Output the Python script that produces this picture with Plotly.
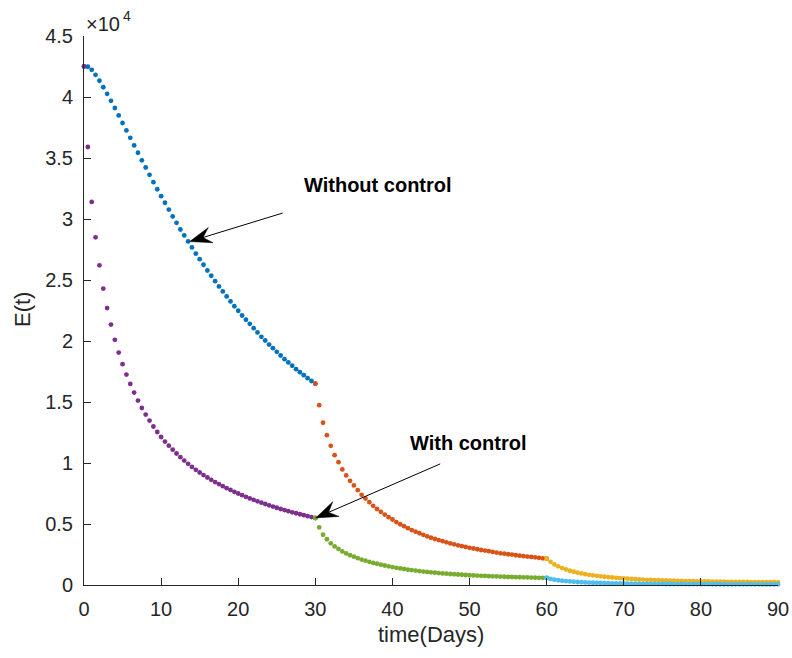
import plotly.graph_objects as go

# ---------------- data ----------------
t_seg1 = [i * 0.5 for i in range(61)]          # days 0..30
t_seg2 = [30 + i * 0.5 for i in range(61)]     # days 30..60
t_seg3 = [60 + i * 0.5 for i in range(61)]     # days 60..90

without_0_30 = [42500, 42480, 42230, 41820, 41330, 40800, 40260, 39690, 39100, 38490,
                37870, 37260, 36650, 36030, 35430, 34810, 34220, 33620, 33020, 32440,
                31870, 31330, 30770, 30210, 29690, 29140, 28650, 28160, 27670, 27170,
                26710, 26250, 25780, 25350, 24900, 24470, 24060, 23650, 23240, 22850,
                22480, 22090, 21740, 21410, 21050, 20700, 20340, 20040, 19710, 19410,
                19110, 18810, 18510, 18240, 17970, 17690, 17440, 17200, 16950, 16720,
                16500]
without_30_60 = [16500, 14740, 13300, 12280, 11410, 10640, 10070, 9470, 8980, 8540,
                 8160, 7770, 7390, 7090, 6790, 6490, 6230, 6000, 5770, 5560,
                 5370, 5160, 4980, 4820, 4660, 4500, 4370, 4240, 4110, 3990,
                 3880, 3770, 3680, 3590, 3500, 3410, 3330, 3250, 3180, 3120,
                 3050, 2990, 2930, 2870, 2820, 2770, 2710, 2660, 2600, 2570,
                 2520, 2490, 2440, 2400, 2360, 2330, 2300, 2270, 2230, 2190,
                 2160]
without_60_90 = [2160, 1900, 1690, 1530, 1390, 1270, 1170, 1085, 1010, 945,
                 885, 835, 790, 748, 710, 675, 643, 614, 587, 562,
                 538, 516, 496, 477, 459, 443, 428, 414, 401, 389,
                 378, 367, 357, 348, 339, 331, 323, 316, 309, 302,
                 296, 290, 285, 280, 275, 270, 266, 262, 258, 254,
                 250, 247, 244, 241, 238, 235, 232, 230, 227, 225,
                 222]
with_0_30 = [42500, 35900, 31400, 28500, 26200, 24300, 22700, 21350, 20100, 19050,
             18100, 17250, 16480, 15770, 15120, 14510, 13970, 13480, 12990, 12540,
             12130, 11760, 11420, 11090, 10780, 10480, 10200, 9930, 9680, 9440,
             9220, 9010, 8810, 8620, 8440, 8270, 8100, 7940, 7790, 7640,
             7500, 7360, 7230, 7100, 6980, 6860, 6750, 6640, 6530, 6430,
             6330, 6230, 6140, 6050, 5960, 5880, 5800, 5720, 5640, 5570,
             5490]
with_30_60 = [5490, 4720, 4120, 3750, 3420, 3160, 2960, 2750, 2590, 2440,
              2320, 2200, 2080, 1990, 1900, 1810, 1740, 1670, 1600, 1530,
              1470, 1410, 1360, 1310, 1260, 1220, 1180, 1140, 1100, 1070,
              1040, 1010, 980, 950, 925, 900, 880, 860, 840, 820,
              800, 785, 770, 755, 740, 725, 712, 700, 688, 676,
              665, 655, 645, 635, 626, 617, 608, 600, 592, 585,
              578]
with_60_90 = [580, 500, 440, 390, 350, 318, 290, 266, 246, 228,
              212, 198, 186, 175, 165, 156, 148, 141, 134, 128,
              122, 117, 112, 108, 104, 100, 97, 94, 91, 88,
              85, 83, 81, 79, 77, 75, 73, 71, 70, 68,
              67, 65, 64, 63, 62, 61, 60, 59, 58, 57,
              56, 55, 54, 53, 52, 52, 51, 50, 49, 49,
              48]

x_tick_vals = [0, 10, 20, 30, 40, 50, 60, 70, 80, 90]
y_tick_vals = [0, 5000, 10000, 15000, 20000, 25000, 30000, 35000, 40000, 45000]
y_tick_text = ["0", "0.5", "1", "1.5", "2", "2.5", "3", "3.5", "4", "4.5"]

# ---------------- styling ----------------
W, H = 792, 658
L, R, T, B = 84, 14, 36, 73
PW, PH = W - L - R, H - T - B
XMAX, YMAX = 90, 45000
px_x = PW / XMAX
px_y = PH / YMAX
FONT = "Liberation Sans, Arial, Helvetica, sans-serif"
AX = "#262626"

series = [
    (t_seg1, without_0_30, "#0072BD"),
    (t_seg2, without_30_60, "#D95319"),
    (t_seg3, without_60_90, "#EDB120"),
    (t_seg1, with_0_30, "#7E2F8E"),
    (t_seg2, with_30_60, "#77AC30"),
    (t_seg3, with_60_90, "#4DBEEE"),
]

fig = go.Figure()
for xs, ys, c in series:
    fig.add_trace(go.Scatter(x=xs, y=ys, mode="markers",
                             marker=dict(size=4.8, color=c, line=dict(width=0)),
                             showlegend=False, hoverinfo="skip", cliponaxis=False))


def arrow(tip_x, tip_y, tail_dx, tail_dy):
    """Arrow from a tail (pixel offset from tip) to a tip in data coords, MATLAB-like head."""
    import math
    ln = math.hypot(tail_dx, tail_dy)
    ux, uy = tail_dx / ln, tail_dy / ln
    nx, ny = -uy, ux
    def pt(a, b):
        dx = ux * a + nx * b
        dy = uy * a + ny * b
        return tip_x + dx / px_x, tip_y - dy / px_y
    p0 = pt(0, 0)
    p1 = pt(22, 8)
    p2 = pt(14, 0)
    p3 = pt(22, -8)
    tail = pt(ln, 0)
    fig.add_shape(type="line", xref="x", yref="y", x0=tail[0], y0=tail[1],
                  x1=p2[0], y1=p2[1], line=dict(color="black", width=1))
    path = "M {},{} L {},{} L {},{} L {},{} Z".format(p0[0], p0[1], p1[0], p1[1],
                                                     p2[0], p2[1], p3[0], p3[1])
    fig.add_shape(type="path", xref="x", yref="y", path=path,
                  fillcolor="black", line=dict(color="black", width=0.5))


arrow(13.7, 28150, 93, -28.5)
arrow(30.05, 5500, 124.5, -54)

fig.add_annotation(x=38.1, y=32750, xref="x", yref="y", text="<b>Without control</b>",
                   showarrow=False, font=dict(family=FONT, size=20, color="black"),
                   xanchor="center", yanchor="middle")
fig.add_annotation(x=49.8, y=11600, xref="x", yref="y", text="<b>With control</b>",
                   showarrow=False, font=dict(family=FONT, size=20, color="black"),
                   xanchor="center", yanchor="middle")
# exponent marker "×10^4" drawn as two pieces
fig.add_annotation(x=0.0, y=1.0, xref="paper", yref="paper", text="×10",
                   showarrow=False, font=dict(family=FONT, size=20, color=AX),
                   xanchor="left", yanchor="bottom", xshift=0, yshift=-1)
fig.add_annotation(x=0.0, y=1.0, xref="paper", yref="paper", text="4",
                   showarrow=False, font=dict(family=FONT, size=14, color=AX),
                   xanchor="left", yanchor="bottom", xshift=37, yshift=10)
fig.add_annotation(x=(431 - L) / PW, y=(H - 634 - B) / PH, xref="paper", yref="paper",
                   text="time(Days)", showarrow=False,
                   font=dict(family=FONT, size=22, color=AX),
                   xanchor="center", yanchor="middle")
fig.add_annotation(x=(22 - L) / PW, y=(H - 310 - B) / PH, xref="paper", yref="paper",
                   text="E(t)", showarrow=False, textangle=-90,
                   font=dict(family=FONT, size=22, color=AX),
                   xanchor="center", yanchor="middle")

fig.update_layout(
    width=W, height=H,
    margin=dict(l=L, r=R, t=T, b=B, pad=0, autoexpand=False),
    paper_bgcolor="white", plot_bgcolor="white",
    font=dict(family=FONT, size=20, color=AX),
    xaxis=dict(range=[0, XMAX], tickvals=x_tick_vals, ticks="inside", ticklen=7,
               tickcolor=AX, tickwidth=1, showline=True, linecolor=AX, linewidth=1,
               showgrid=False, zeroline=False, mirror=False, automargin=False,
               tickfont=dict(family=FONT, size=20, color=AX), ticklabelstandoff=6),
    yaxis=dict(range=[0, YMAX], tickvals=y_tick_vals, ticktext=y_tick_text,
               ticks="inside", ticklen=7, tickcolor=AX, tickwidth=1,
               showline=True, linecolor=AX, linewidth=1,
               showgrid=False, zeroline=False, mirror=False, automargin=False,
               tickfont=dict(family=FONT, size=20, color=AX), ticklabelstandoff=6),
)

fig.write_html("out.html")
